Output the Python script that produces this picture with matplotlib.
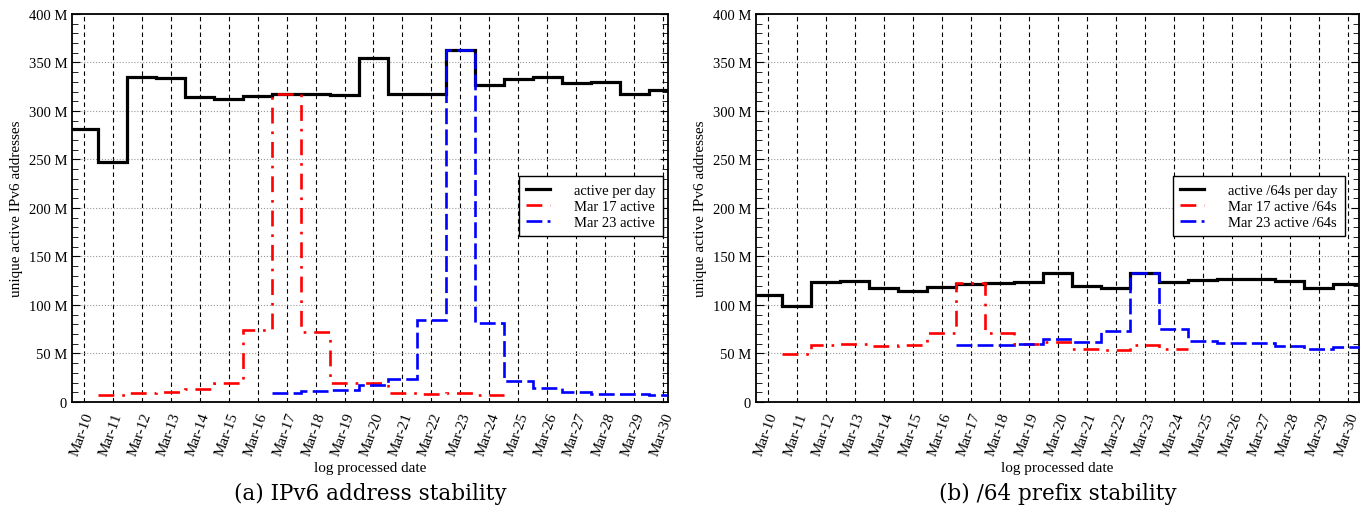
import numpy as np
import matplotlib
matplotlib.use("Agg")
import matplotlib.pyplot as plt
import matplotlib.transforms as mtransforms
from matplotlib.ticker import MultipleLocator, FuncFormatter

plt.rcParams['font.family'] = ['Liberation Serif', 'DejaVu Serif']

days = ['Mar-%d' % d for d in range(10, 31)]

# (a) addresses, millions, one value per day Mar-10 .. Mar-30
addr_daily = [281, 247, 335, 334, 314, 312, 315, 318, 317, 316, 355,
              317, 318, 363, 327, 333, 335, 329, 330, 317, 322]
# Mar 17 active: Mar-11 .. Mar-24
addr_mar17 = [7, 9, 10.5, 13.5, 19.5, 74, 318, 72, 20, 19.5, 9.5, 8, 9.5, 7]
# Mar 23 active: Mar-17 .. Mar-30
addr_mar23 = [9.7, 11, 12, 17, 24, 84, 363, 81, 22, 14.5, 10, 8.6, 8, 7]

# (b) /64 prefixes
pfx_daily = [110, 99, 123.5, 124.5, 117.5, 114, 118.5, 121.5, 122.5, 123.5, 133,
             119.5, 117, 133, 123.8, 126, 127.2, 127, 124.5, 117.5, 121.4]
pfx_mar17 = [49.3, 58.3, 59.3, 57.2, 58.3, 71.4, 122.4, 71.4, 60, 61.7, 55, 53.4, 59, 55]
pfx_mar23 = [59, 59, 59.7, 64.5, 62, 72.8, 133, 75, 62.8, 61, 60.3, 58, 55, 57]

mar17_start = 1   # index of Mar-11
mar23_start = 7   # index of Mar-17

fig = plt.figure(figsize=(13.61, 5.06), dpi=100)
ax1 = fig.add_axes([0.0529, 0.2036, 0.4379, 0.7668])
ax2 = fig.add_axes([0.5555, 0.2036, 0.4430, 0.7668])


def edges_for(start, n):
    return np.arange(start, start + n + 1) - 0.5


def draw(ax, daily, m17, m23, labels, xmax, legend_box):
    lw = 1.9
    ax.stairs(daily, edges_for(0, len(daily)), baseline=None, color='black',
              lw=2.3, label=labels[0], zorder=4)
    ax.stairs(m17, edges_for(mar17_start, len(m17)), baseline=None, color='red',
              lw=lw, linestyle=(0, (6, 3, 1, 3)), label=labels[1], zorder=5)
    ax.stairs(m23, edges_for(mar23_start, len(m23)), baseline=None, color='blue',
              lw=lw, linestyle=(0, (6, 2)), label=labels[2], zorder=6)

    ax.set_xlim(-0.41, xmax)
    ax.set_ylim(0, 400)
    ax.set_xticks(range(len(days)))
    ax.set_xticklabels(days, rotation=70, ha='right', rotation_mode='anchor',
                       fontsize=10.8)
    shift = mtransforms.ScaledTranslation(4 / 100, 0, fig.dpi_scale_trans)
    for t in ax.get_xticklabels():
        t.set_transform(t.get_transform() + shift)
    ax.tick_params(axis='x', length=0, pad=6)
    ax.yaxis.set_major_locator(MultipleLocator(50))
    ax.yaxis.set_minor_locator(MultipleLocator(10))
    ax.yaxis.set_major_formatter(FuncFormatter(lambda v, p: '0' if v == 0 else '%d M' % v))
    ax.tick_params(axis='y', which='both', direction='in', left=True, right=True,
                   labelsize=10.5)
    ax.tick_params(axis='y', which='major', length=6)
    ax.tick_params(axis='y', which='minor', length=4)
    ax.grid(axis='x', color='black', linestyle=(0, (4, 3)), lw=0.8)
    ax.grid(axis='y', which='major', color='#999999', linestyle=':', lw=0.8)
    for s in ax.spines.values():
        s.set_linewidth(1.3)
    ax.set_ylabel('unique active IPv6 addresses', fontsize=11, labelpad=4)
    ax.set_xlabel('log processed date', fontsize=11, labelpad=3)
    leg = ax.legend(loc='upper right', bbox_to_anchor=legend_box, fontsize=10.5,
                    fancybox=False, edgecolor='black', framealpha=1,
                    handlelength=1.6, handletextpad=1.7, labelspacing=0.2,
                    borderpad=0.5, borderaxespad=0)
    leg.get_frame().set_linewidth(1.0)
    leg.set_zorder(10)


draw(ax1, addr_daily, addr_mar17, addr_mar23,
     ['active per day', 'Mar 17 active', 'Mar 23 active'], 20.17, (0.992, 0.582))
draw(ax2, pfx_daily, pfx_mar17, pfx_mar23,
     ['active /64s per day', 'Mar 17 active /64s', 'Mar 23 active /64s'], 20.38, (0.977, 0.582))

fig.text(0.2719, 0.012, '(a) IPv6 address stability', ha='center', va='baseline',
         fontsize=15.5, family='DejaVu Serif')
fig.text(0.7770, 0.012, '(b) /64 prefix stability', ha='center', va='baseline',
         fontsize=15.5, family='DejaVu Serif')

fig.savefig('out.png', dpi=100)
